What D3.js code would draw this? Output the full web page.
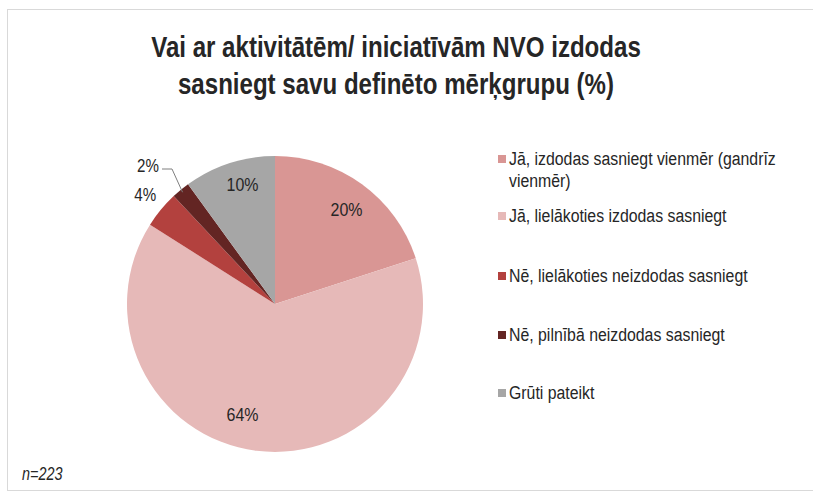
<!DOCTYPE html>
<html lang="lv">
<head>
<meta charset="UTF-8">
<title>NVO mērķgrupa</title>
<script src="https://d3js.org/d3.v7.min.js"></script>
<style>
    body { margin: 0; background: #fff; }
    svg text { font-family: "Liberation Sans", Arial, sans-serif; fill: #262626; }
</style>
</head>
<body>
<div id="chart"></div>
<script>
    const categories = [
        "Jā, izdodas sasniegt vienmēr (gandrīz vienmēr)",
        "Jā, lielākoties izdodas sasniegt",
        "Nē, lielākoties neizdodas sasniegt",
        "Nē, pilnībā neizdodas sasniegt",
        "Grūti pateikt"
    ];
    const values = [20, 64, 4, 2, 10];
    const colors = ["#d99694", "#e6b9b8", "#b3413e", "#632523", "#a6a6a6"];
    const titleLines = ["Vai ar aktivitātēm/ iniciatīvām NVO izdodas", "sasniegt savu definēto mērķgrupu (%)"];

    const width = 813, height = 494;
    const svg = d3.select("#chart").append("svg")
        .attr("width", width).attr("height", height);

    // the source uses a narrow font, squeeze the glyphs a bit
    function narrow(sel, f) {
        sel.each(function () {
            const w = this.getComputedTextLength();
            d3.select(this).attr("textLength", w * f).attr("lengthAdjust", "spacingAndGlyphs");
        });
    }

    // frame
    svg.append("rect")
        .attr("x", 7.5).attr("y", 9.5)
        .attr("width", 820).attr("height", 481)
        .attr("fill", "none").attr("stroke", "#d9d9d9");

    const title = svg.append("g").selectAll("text").data(titleLines).join("text")
        .attr("x", 396).attr("y", (d, i) => 57 + i * 37)
        .attr("text-anchor", "middle")
        .attr("font-size", 29).attr("font-weight", "bold")
        .attr("fill", "#1a1a1a")
        .text(d => d);
    narrow(title, 0.83);

    const cx = 275, cy = 304, r = 148;
    const pie = d3.pie().sort(null).value(d => d)(values);
    const arc = d3.arc().innerRadius(0).outerRadius(r);
    const g = svg.append("g").attr("transform", `translate(${cx},${cy})`);

    g.selectAll("path").data(pie).join("path")
        .attr("d", arc)
        .attr("fill", (d, i) => colors[i]);

    // labels inside the bigger slices (radius, angle shift)
    const inside = [
        { i: 0, k: 0.80, da: 0.02 },
        { i: 1, k: 0.78, da: 0.16 },
        { i: 4, k: 0.84, da: 0.05 }
    ];
    const inLabels = g.selectAll("text.in").data(inside).join("text")
        .attr("class", "in")
        .attr("font-size", 19)
        .attr("text-anchor", "middle")
        .attr("dy", "0.35em")
        .attr("transform", d => {
            const p = pie[d.i];
            const a = (p.startAngle + p.endAngle) / 2 + d.da;
            return `translate(${Math.sin(a) * r * d.k},${-Math.cos(a) * r * d.k})`;
        })
        .text(d => values[d.i] + "%");
    narrow(inLabels, 0.84);

    // outside labels for the small slices
    const outer = d3.arc().innerRadius(r * 1.12).outerRadius(r * 1.12);
    const c4 = outer.centroid(pie[2]);
    const l4 = g.append("text")
        .attr("font-size", 18).attr("text-anchor", "middle").attr("dy", "0.35em")
        .attr("transform", `translate(${c4[0] - 2},${c4[1] - 4})`)
        .text(values[2] + "%");
    narrow(l4, 0.84);

    const edge = d3.arc().innerRadius(r * 0.98).outerRadius(r * 0.98).centroid(pie[3]);
    const lx = -127, ly = -138;
    g.append("path")
        .attr("d", `M${lx + 14},${ly + 3}L${lx + 24},${ly + 3}L${edge[0]},${edge[1]}`)
        .attr("fill", "none").attr("stroke", "#7f7f7f").attr("stroke-width", 1);
    const l2 = g.append("text")
        .attr("font-size", 18).attr("text-anchor", "middle").attr("dy", "0.35em")
        .attr("x", lx).attr("y", ly)
        .text(values[3] + "%");
    narrow(l2, 0.84);

    // legend
    const legY = [159, 216, 276, 335, 393];
    const leg = svg.append("g");
    categories.forEach((c, i) => {
        const row = leg.append("g").attr("transform", `translate(498,${legY[i]})`);
        row.append("rect").attr("x", 0).attr("y", -4).attr("width", 8).attr("height", 8)
            .attr("fill", colors[i]);
        const lines = i === 0 ? ["Jā, izdodas sasniegt vienmēr (gandrīz", "vienmēr)"] : [c];
        const t = row.selectAll("text").data(lines).join("text")
            .attr("x", 11).attr("y", (d, j) => j * 22)
            .attr("dy", "0.35em").attr("font-size", 18)
            .text(d => d);
        narrow(t, 0.88);
    });

    const nt = svg.append("text")
        .attr("x", 22).attr("y", 480)
        .attr("font-size", 18).attr("font-style", "italic")
        .text("n=223");
    narrow(nt, 0.8);
</script>
</body>
</html>
